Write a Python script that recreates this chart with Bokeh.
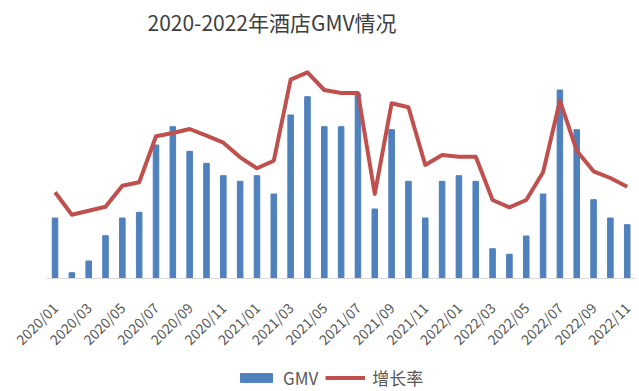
from math import pi
from bokeh.plotting import figure
from bokeh.models import Range1d, FixedTicker, Legend, LegendItem, LinearAxis, Label
from bokeh.embed import file_html
from bokeh.resources import INLINE

# ---- data ----
months = ["2020/01", "2020/02", "2020/03", "2020/04", "2020/05", "2020/06",
          "2020/07", "2020/08", "2020/09", "2020/10", "2020/11", "2020/12",
          "2021/01", "2021/02", "2021/03", "2021/04", "2021/05", "2021/06",
          "2021/07", "2021/08", "2021/09", "2021/10", "2021/11", "2021/12",
          "2022/01", "2022/02", "2022/03", "2022/04", "2022/05", "2022/06",
          "2022/07", "2022/08", "2022/09", "2022/10", "2022/11"]
gmv = [60, 5.3, 17, 42.3, 60, 65.7, 133, 151.3, 126.7, 114.7, 102.3, 96.7,
       102.3, 84, 163, 181.3, 151.3, 151.3, 184, 69, 148.3, 96.7, 60, 96.7,
       102.3, 96.7, 29.3, 23.7, 42, 84, 188, 148.3, 78.3, 60, 53.3]
growth = [85.7, 63.3, 67.3, 71.3, 92.3, 95.7, 141.7, 145, 149, 142.3, 135.3,
          120.7, 109.7, 117.3, 198.3, 205.7, 188, 185, 185, 84, 174.7, 170.7,
          113, 123, 121.3, 121.3, 78, 70.7, 78, 105.7, 177.3, 127.3, 106.7,
          100, 91.3]
title_text = "2020-2022年酒店GMV情况"
series_names = ["GMV", "增长率"]

xs = list(range(len(months)))
FONT = "Noto Sans CJK SC"

p = figure(width=639, height=391,
           x_range=Range1d(-3.24, 34.73), y_range=Range1d(-113.5, 277.5),
           output_backend="svg", toolbar_location=None,
           x_axis_location=None, y_axis_location=None,
           min_border_left=0, min_border_right=0,
           min_border_top=0, min_border_bottom=0)

p.outline_line_color = None
p.xgrid.visible = False
p.ygrid.visible = False
p.background_fill_color = "white"
p.border_fill_color = "white"

title = Label(x=147, y=369.5, x_units="screen", y_units="screen",
              text=title_text, text_font=FONT, text_font_size="21px",
              text_color="#404040", text_align="left", text_baseline="middle")
p.add_layout(title)

ax = LinearAxis(fixed_location=0, bounds=(-0.53, 34.5))
ax.ticker = FixedTicker(ticks=xs[::2])
ax.major_label_overrides = {i: months[i] for i in xs[::2]}
ax.major_label_orientation = pi / 4
ax.major_label_text_font = FONT
ax.major_label_text_font_size = "14px"
ax.major_label_text_color = "#595959"
ax.major_label_standoff = 21
ax.major_tick_line_color = None
ax.minor_tick_line_color = None
ax.axis_line_color = "#d9d9d9"
ax.axis_line_width = 1
p.add_layout(ax, "below")

bars = p.vbar(x=xs, top=gmv, width=0.33, color="#4F81BD")
line = p.line(xs, growth, line_width=4, color="#C0504D", line_join="round")

legend = Legend(items=[LegendItem(label=series_names[0], renderers=[bars]),
                       LegendItem(label=series_names[1], renderers=[line])],
                orientation="horizontal", location=(236, 1),
                glyph_width=40, glyph_height=11, label_standoff=7, spacing=7,
                border_line_color=None, background_fill_alpha=0,
                label_text_font=FONT, label_text_font_size="17px",
                label_text_color="#595959", padding=0, margin=0)
p.add_layout(legend, "center")

open("out.html", "w").write(file_html(p, INLINE))
